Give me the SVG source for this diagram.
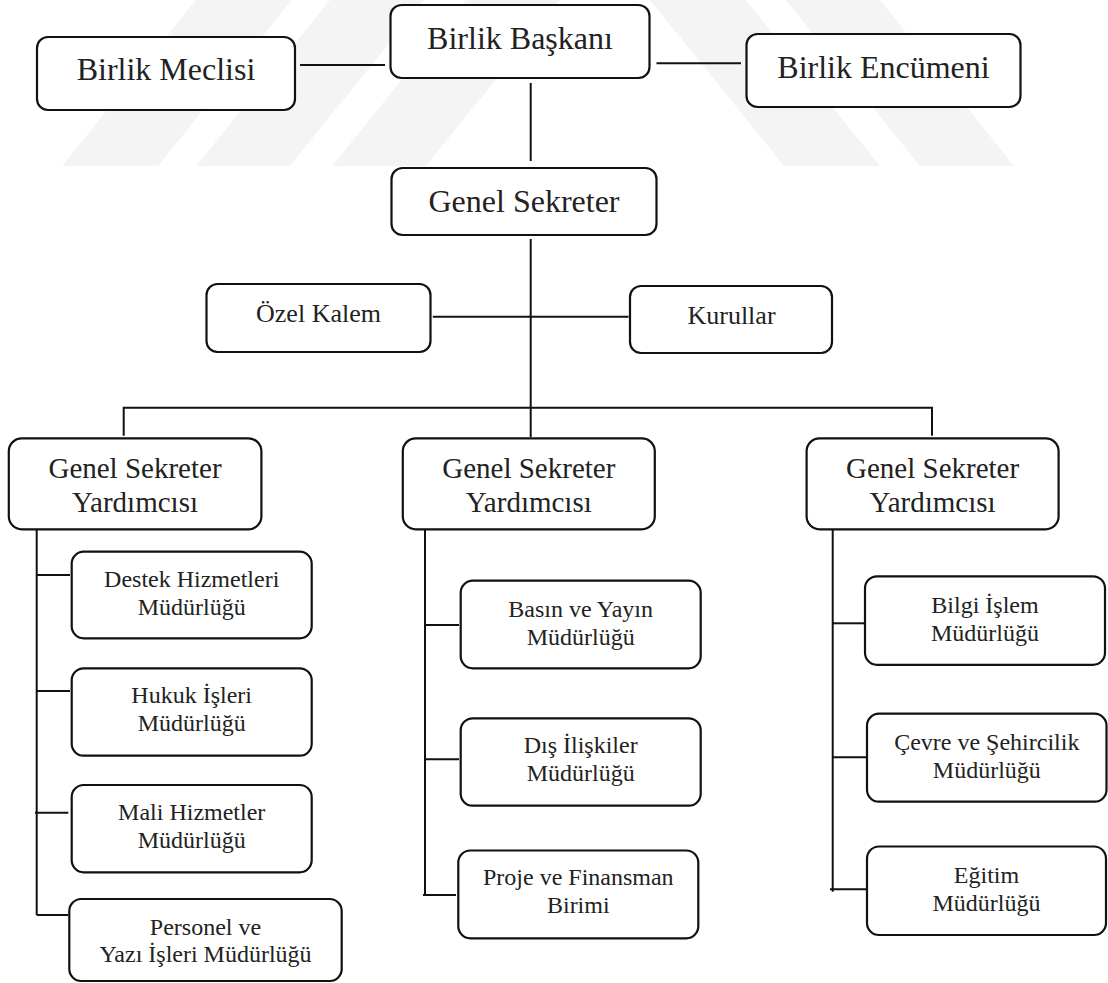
<svg xmlns="http://www.w3.org/2000/svg" width="1108" height="983" viewBox="0 0 1108 983">
<style>
.box{fill:#fff;stroke:#111;stroke-width:2.2}
.ln{stroke:#111;stroke-width:2;fill:none}
.wm{fill:#f4f4f4;stroke:none}
text{font-family:"Liberation Serif","Times New Roman",serif;fill:#222;text-anchor:middle}
.t32{font-size:32px}
.t26{font-size:26px}
.t29{font-size:29px}
.t24{font-size:24px}
</style>
<rect x="0" y="0" width="1108" height="983" fill="#fff"/>
<g id="watermark">
<polygon class="wm" points="62,166 158,166 292,0 196,0"/>
<polygon class="wm" points="196,166 290,166 424,0 330,0"/>
<polygon class="wm" points="332,166 426,166 560,0 466,0"/>
<polygon class="wm" points="650,0 746,0 880,166 784,166"/>
<polygon class="wm" points="786,0 880,0 1014,166 920,166"/>
</g>
<g id="connectors">
<path class="ln" d="M300,65 H385"/>
<path class="ln" d="M656.5,63.3 H741"/>
<path class="ln" d="M530.7,83 V161"/>
<path class="ln" d="M530.7,239 V437"/>
<path class="ln" d="M432.8,316.7 H628.5"/>
<path class="ln" d="M123.7,435.7 V407.7 H932 V435.7"/>
<path class="ln" d="M36.7,529.3 V915"/>
<path class="ln" d="M36.7,575 H70"/>
<path class="ln" d="M36.7,691 H70"/>
<path class="ln" d="M35,812.7 H68.3"/>
<path class="ln" d="M36.7,915 H68.3"/>
<path class="ln" d="M425,529.3 V895"/>
<path class="ln" d="M425,625 H459"/>
<path class="ln" d="M425,759.3 H459"/>
<path class="ln" d="M423,895 H456"/>
<path class="ln" d="M832.7,529.3 V891.7"/>
<path class="ln" d="M832.7,623.3 H864"/>
<path class="ln" d="M832.7,757.3 H866"/>
<path class="ln" d="M830,889.3 H866"/>
</g>
<g id="meclisi"><rect class="box" x="37" y="37" width="258" height="73" rx="11"/><text class="t32" x="166" y="80">Birlik Meclisi</text></g>
<g id="baskan"><rect class="box" x="390.5" y="5" width="259" height="73" rx="11"/><text class="t32" x="520" y="48.5">Birlik Başkanı</text></g>
<g id="encumeni"><rect class="box" x="746.5" y="34" width="274" height="73" rx="11"/><text class="t32" x="883.5" y="77.5">Birlik Encümeni</text></g>
<g id="genel-sekreter"><rect class="box" x="391.5" y="168" width="265" height="67" rx="11"/><text class="t32" x="524" y="212">Genel Sekreter</text></g>
<g id="ozel-kalem"><rect class="box" x="206.5" y="284" width="224" height="68" rx="11"/><text class="t26" x="318.5" y="322">Özel Kalem</text></g>
<g id="kurullar"><rect class="box" x="630" y="286" width="202" height="67" rx="11"/><text class="t26" x="731.5" y="323.5">Kurullar</text></g>
<g id="yrd1"><rect class="box" x="8.8" y="438.3" width="252.6" height="91" rx="13"/><text class="t29" x="135" y="478.3">Genel Sekreter</text><text class="t29" x="135" y="511.7">Yardımcısı</text></g>
<g id="yrd2"><rect class="box" x="402.8" y="438.3" width="252" height="91" rx="13"/><text class="t29" x="528.8" y="478.3">Genel Sekreter</text><text class="t29" x="528.8" y="511.7">Yardımcısı</text></g>
<g id="yrd3"><rect class="box" x="806.6" y="438.3" width="252" height="91" rx="13"/><text class="t29" x="932.6" y="478.3">Genel Sekreter</text><text class="t29" x="932.6" y="511.7">Yardımcısı</text></g>
<g id="destek"><rect class="box" x="71.7" y="551.7" width="240" height="86.6" rx="12"/><text class="t24" x="191.7" y="586.7">Destek Hizmetleri</text><text class="t24" x="191.7" y="614.5">Müdürlüğü</text></g>
<g id="hukuk"><rect class="box" x="71.7" y="668.3" width="240" height="87.4" rx="12"/><text class="t24" x="191.7" y="703.3">Hukuk İşleri</text><text class="t24" x="191.7" y="731">Müdürlüğü</text></g>
<g id="mali"><rect class="box" x="71.7" y="785" width="240" height="87.3" rx="12"/><text class="t24" x="191.7" y="820">Mali Hizmetler</text><text class="t24" x="191.7" y="847.8">Müdürlüğü</text></g>
<g id="personel"><rect class="box" x="69.3" y="899" width="272.4" height="82" rx="12"/><text class="t24" x="205.5" y="934.5">Personel ve</text><text class="t24" x="205.5" y="962">Yazı İşleri Müdürlüğü</text></g>
<g id="basin"><rect class="box" x="460.7" y="580.7" width="240" height="87.6" rx="12"/><text class="t24" x="580.7" y="617">Basın ve Yayın</text><text class="t24" x="580.7" y="645">Müdürlüğü</text></g>
<g id="dis"><rect class="box" x="460.7" y="718.3" width="240" height="87.4" rx="12"/><text class="t24" x="580.7" y="753.3">Dış İlişkiler</text><text class="t24" x="580.7" y="781.3">Müdürlüğü</text></g>
<g id="proje"><rect class="box" x="458.3" y="850.5" width="240" height="87.8" rx="12"/><text class="t24" x="578.3" y="885">Proje ve Finansman</text><text class="t24" x="578.3" y="913">Birimi</text></g>
<g id="bilgi"><rect class="box" x="865" y="576.3" width="240" height="88.5" rx="12"/><text class="t24" x="985" y="612.5">Bilgi İşlem</text><text class="t24" x="985" y="640.5">Müdürlüğü</text></g>
<g id="cevre"><rect class="box" x="867" y="713.7" width="239.5" height="88" rx="12"/><text class="t24" x="986.8" y="750">Çevre ve Şehircilik</text><text class="t24" x="986.8" y="778.3">Müdürlüğü</text></g>
<g id="egitim"><rect class="box" x="867" y="846.5" width="239" height="88.5" rx="12"/><text class="t24" x="986.5" y="882.5">Eğitim</text><text class="t24" x="986.5" y="910.5">Müdürlüğü</text></g>
</svg>
